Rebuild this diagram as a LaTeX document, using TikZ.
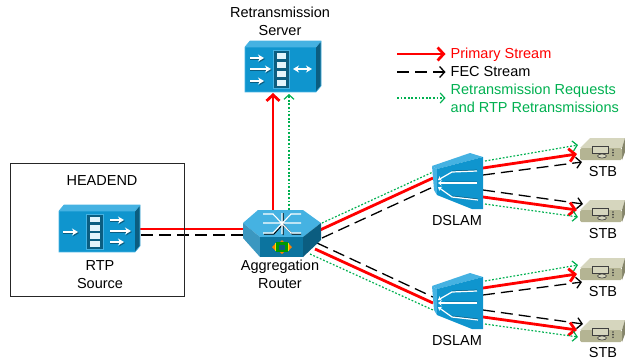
\documentclass[tikz,border=0pt]{standalone}
\usepackage{fontspec}
\setmainfont{Liberation Sans}
\usetikzlibrary{arrows.meta,backgrounds,positioning}
\definecolor{boxfront}{HTML}{0F95CE}
\definecolor{boxtop}{HTML}{45B2E2}
\definecolor{boxside}{HTML}{0B5D80}
\definecolor{stream}{HTML}{00B050}
\definecolor{stbfront}{HTML}{B4B493}
\definecolor{stbtop}{HTML}{D6D6BE}
\definecolor{stbside}{HTML}{85856A}
\tikzset{
  device/.style={inner sep=0pt,outer sep=0pt},
  lbl/.style={inner sep=0pt,align=center,font=\fontsize{14.5}{18}\selectfont},
  primary/.style={draw=red,line width=2.8pt,-{Straight Barb[length=6pt,width=13pt]}},
  fec/.style={draw=black,line width=1.3pt,dash pattern=on 12pt off 6pt,-{Straight Barb[length=5pt,width=11pt]}},
  retrans/.style={draw=stream,line width=1.2pt,dash pattern=on 1.8pt off 1.8pt,-{Straight Barb[length=4.5pt,width=10pt]}},
  wharrow/.style={draw=white,line width=1.7pt,-{Stealth[length=6pt,width=7pt]}},
  wharrowshadow/.style={draw=boxside,line width=1.7pt,-{Stealth[length=6pt,width=7pt]}},
}
% x1,x2 and y1,y2 of the film strip
\newcommand{\filmicon}[4]{
  \fill[boxside] (#1,#3) rectangle (#2,#4);
  \draw[boxtop,line width=.7pt] (#1,#3) rectangle (#2,#4);
  \foreach \k in {0,1,2,3}
    \fill[white!85!boxtop] ({#1+3.5},{#3+2.5+\k*(#4-#3-2)/4}) rectangle ++({#2-#1-7},{(#4-#3-2)/4-2.5});
}
\newcommand{\wharr}[3]{
  \draw[wharrowshadow] (#1,#3+1) -- (#2+1,#3+1);
  \draw[wharrow] (#1,#3) -- (#2,#3);
}
% front face at x1,x2,y1,y2 with a depth of 5 by 6
\newcommand{\boxicon}[4]{
  \fill[boxtop] (#1,#3) -- (#1+5,#3-6) -- (#2+5,#3-6) -- (#2,#3) -- cycle;
  \fill[boxside] (#2,#3) -- (#2+5,#3-6) -- (#2+5,#4-6) -- (#2,#4) -- cycle;
  \fill[boxfront] (#1,#3) rectangle (#2,#4);
  \draw[boxtop,line width=.6pt] (#1,#4) -- (#1,#3) -- (#1+5,#3-6) -- (#2+5,#3-6) -- (#2+5,#4-6) -- (#2,#4) -- cycle (#1,#3) -- (#2,#3) -- (#2+5,#3-6);
}
\newcommand{\dslamicon}[2]{
  \node[device,minimum width=46pt,minimum height=52pt] (#2) at (#1) {};
  \begin{scope}[shift={(#1)}]
    \fill[boxtop] (-28,-17) -- (10,-30) -- (23,-26) -- (-23,-14) -- cycle;
    \fill[boxtop] (-28,-17) -- (-23,-14) -- (-23,12) -- (-26,7) -- cycle;
    \fill[boxfront] (-23,-14) -- (23,-26) -- (23,26) -- (12,26) -- (-23,12) -- cycle;
    \draw[boxside,line width=.7pt] (17,-13) -- (-8,-12) (17,-1) -- (-15,-1) (18,16) -- (-8,13);
    \draw[white,line width=1.2pt,-{Stealth[length=3.5pt,width=5pt]}] (17,0) -- (-22,0);
    \draw[white,line width=1.2pt,-{Stealth[length=3.5pt,width=5pt]}] (17,-12) -- (-8,-11) -- (-22,-3);
    \draw[white,line width=1.2pt,-{Stealth[length=3.5pt,width=5pt]}] (18,17) -- (-8,14) -- (-22,4);
  \end{scope}
}
\newcommand{\stbicon}[2]{
  \node[device,minimum width=44pt,minimum height=22pt] (#2) at (#1) {};
  \begin{scope}[shift={(#1)}]
    \fill[stbtop] (-22,-1) -- (-12,-11) -- (23,-11) -- (20,-1) -- cycle;
    \fill[stbside] (20,-1) -- (23,-11) -- (23,3) -- (20,11) -- cycle;
    \fill[stbfront,rounded corners=1.5pt] (-22,-1) -- (20,-1) -- (20,11) -- (-22,11) -- cycle;
    \draw[black!75,fill=stbtop,line width=.7pt] (-10,-3) rectangle (6,4);
    \draw[black!75,fill=stbtop,line width=.6pt] (0,7) ellipse (4.5 and 2);
    \foreach \k in {0,1,2}
      \fill[black!75] (11,{1+\k*2.6}) circle (.9);
  \end{scope}
}
\begin{document}
\begin{tikzpicture}[x=1pt,y=-1pt]
\useasboundingbox (0,0) rectangle (625,360);
% devices
\node[device,minimum width=81pt,minimum height=47pt] (src) at (99.5,228.5) {};
\boxicon{59}{135}{211}{252}
\filmicon{86}{103}{214}{249}
\wharr{63}{78}{232}
\wharr{110}{124}{220}
\wharr{110}{131}{231}
\wharr{110}{124}{242}
\node[device,minimum width=76pt,minimum height=51pt] (srv) at (283,66.5) {};
\boxicon{245}{316}{47}{92}
\filmicon{273}{289}{50}{88}
\wharr{250}{264}{58}
\wharr{250}{271}{69}
\wharr{250}{264}{81}
\draw[white,line width=1.7pt,{Stealth[length=6pt,width=7pt]}-{Stealth[length=6pt,width=7pt]}] (293,69) -- (312,69);
\node[device,minimum width=78pt,minimum height=47pt] (rtr) at (282,233) {};
\fill[boxtop] (243,223) -- (258,210) -- (303,210) -- (321,223) -- (303,237) -- (260,237) -- cycle;
\fill[boxtop!85!black] (243,223) -- (260,237) -- (260,257) -- (243,238) -- cycle;
\fill[boxside] (321,223) -- (303,237) -- (303,257) -- (321,240) -- cycle;
\fill[boxside!60!boxfront] (260,237) rectangle (303,257);
\draw[black,line width=1pt] (283,213) -- (283,235) (264,234) -- (274,234) -- (283,224) -- (292,234) -- (301,234);
\draw[white,line width=1.1pt] (282,213) -- (282,234) (263,223) -- (301,223)
  (263,214) -- (273,214) -- (291,233) -- (301,233) (263,233) -- (273,233) -- (291,214) -- (301,214);
\fill[orange] (282,240) -- (285,243) -- (279,243) -- cycle (282,254) -- (285,251) -- (279,251) -- cycle
  (272,247) -- (275,244) -- (275,250) -- cycle (292,247) -- (289,244) -- (289,250) -- cycle;
\fill[yellow!80!orange] (275,243) rectangle (289,251);
\fill[green!60!black] (276,242) rectangle (288,252);
\fill[boxside] (279,244.5) rectangle (285,249.5);
\dslamicon{460,183}{d1}
\dslamicon{460,303}{d2}
\stbicon{602,149}{s1}
\stbicon{602,211}{s2}
\stbicon{602,269}{s3}
\stbicon{602,331}{s4}
% labels
\draw[line width=.8pt,black!85] (10.5,163) rectangle (184,296);
\node[lbl] (hdend) at (102,181) {HEADEND};
\node[lbl] (srclbl) at (100,275) {RTP\\Source};
\node[lbl] (srvlbl) at (280,21.5) {Retransmission\\Server};
\node[lbl] (rtrlbl) at (280,274) {Aggregation\\Router};
\node[lbl] (d1lbl) at (457,221) {DSLAM};
\node[lbl] (d2lbl) at (457,341) {DSLAM};
\node[lbl] (s1lbl) at (603,172) {STB};
\node[lbl] (s2lbl) at (603,234) {STB};
\node[lbl] (s3lbl) at (603,292) {STB};
\node[lbl] (s4lbl) at (603,353) {STB};
% legend
\coordinate (lp) at (397,54);
\coordinate (lf) at (397,72);
\coordinate (lr) at (397,98);
\node[lbl,anchor=west,text=red] (lpt) at (450.5,55) {Primary Stream};
\node[lbl,anchor=west] (lft) at (450.5,72) {FEC Stream};
\node[lbl,anchor=west,text=stream,align=left] (lrt) at (450.5,98) {Retransmission Requests\\and RTP Retransmissions};
\draw[primary] (lp) -- ([shift={(-5,-1)}]lpt.west);
\draw[fec] (lf) -- ([shift={(-5,0)}]lft.west);
\draw[retrans] (lr) -- ([shift={(-5,0)}]lrt.west);
% links
\begin{scope}[on background layer]
\draw[primary,-] ([shift={(0,.5)}]src.east) -- ([shift={(0,-4)}]rtr.west);
\draw[fec,-] ([shift={(1,6.5)}]src.east) -- ([shift={(0,2)}]rtr.west);
\draw[primary] ([shift={(-9,0)}]rtr.north) -- ([shift={(-10,1)}]srv.south);
\draw[retrans] ([shift={(7,0)}]rtr.north) -- ([shift={(6,2)}]srv.south);
\draw[primary,-] ([shift={(-1,-3)}]rtr.east) -- ([shift={(-4,-5)}]d1.west);
\draw[fec,-] ([shift={(1,5)}]rtr.east) -- ([shift={(-4,4)}]d1.west);
\draw[retrans,-] ([shift={(1,-10)}]rtr.east) -- ([shift={(-4,-11)}]d1.west);
\draw[primary,-] ([shift={(-6,16)}]rtr.east) -- ([shift={(-4,0)}]d2.west);
\draw[fec,-] ([shift={(-4,10)}]rtr.east) -- ([shift={(-4,-6)}]d2.west);
\draw[retrans,-] ([shift={(-11,21)}]rtr.east) -- ([shift={(-4,7)}]d2.west);
\foreach \d/\a/\b in {d1/s1/s2,d2/s3/s4} {
  \draw[primary] ([shift={(0,-15)}]\d.east) -- ([shift={(-3,5)}]\a.west);
  \draw[fec] ([shift={(0,-8)}]\d.east) -- ([shift={(2,13)}]\a.west);
  \draw[retrans] ([shift={(2,-22)}]\d.east) -- ([shift={(-2,-4)}]\a.west);
  \draw[fec] ([shift={(0,7)}]\d.east) -- ([shift={(3,-7)}]\b.west);
  \draw[primary] ([shift={(0,14)}]\d.east) -- ([shift={(-3,-1)}]\b.west);
  \draw[retrans] ([shift={(2,21)}]\d.east) -- ([shift={(-2,6)}]\b.west);
}
\end{scope}
\end{tikzpicture}
\end{document}
